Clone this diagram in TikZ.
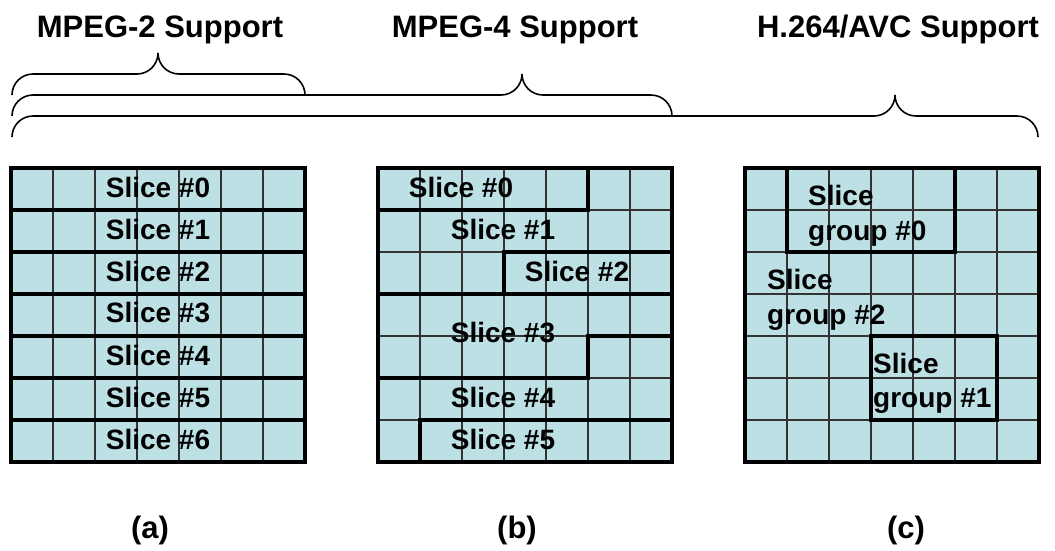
\documentclass[tikz,border=0pt]{standalone}
\usepackage{fontspec}
\setmainfont{Liberation Sans}
\definecolor{cellfill}{RGB}{188,224,228}
\tikzset{
  cellline/.style={line width=1.2pt, draw=black!80},
  thickline/.style={line width=3.8pt, line join=miter, line cap=rect},
  bracepath/.style={line width=1.6pt, rounded corners=21pt},
  titletext/.style={font=\bfseries\fontsize{31}{37}\selectfont, inner sep=0pt, anchor=base},
  slicetext/.style={font=\bfseries\fontsize{28}{34}\selectfont, inner sep=0pt},
}
\begin{document}
\begin{tikzpicture}[x=1pt, y=-1pt]
\useasboundingbox (0,0) rectangle (1055,550);

% titles
\node[titletext] (t2) at (160,37) {MPEG-2 Support};
\node[titletext] (t4) at (515,37) {MPEG-4 Support};
\node[titletext] (th) at (898,37) {H.264/AVC Support};

% braces
\draw[bracepath] (12,95) -- (12,74) -- (158,74) -- (158,53);
\draw[bracepath] (158,53) -- (158,74) -- (305,74) -- (305,95);
\draw[bracepath] (12,116) -- (12,95) -- (522,95) -- (522,74);
\draw[bracepath] (522,74) -- (522,95) -- (672,95) -- (672,116);
\draw[bracepath] (12,137) -- (12,116) -- (895,116) -- (895,95);
\draw[bracepath] (895,95) -- (895,116) -- (1038,116) -- (1038,137);

% grids
\foreach \x in {11,378,745} {
  \fill[cellfill] (\x,168) rectangle ({\x+294},462);
  \foreach \i in {1,...,6} {
    \draw[cellline] ({\x+42*\i},168) -- ({\x+42*\i},462);
    \draw[cellline] (\x,{168+42*\i}) -- ({\x+294},{168+42*\i});
  }
}

% (a) slices
\foreach \i in {1,...,6} {
  \draw[thickline] (11,{168+42*\i}) -- (305,{168+42*\i});
}
\draw[thickline] (11,168) rectangle (305,462);
\foreach \i in {0,...,6} {
  \node[slicetext] (a\i) at (158,{187+42*\i}) {Slice \#\i};
}

% (b) slices
\draw[thickline] (378,210) -- (588,210) -- (588,168);
\draw[thickline] (378,294) -- (504,294) -- (504,252) -- (672,252);
\draw[thickline] (504,294) -- (672,294);
\draw[thickline] (378,378) -- (588,378) -- (588,336) -- (672,336);
\draw[thickline] (420,462) -- (420,420) -- (672,420);
\draw[thickline] (378,168) rectangle (672,462);
\node[slicetext] (b0) at (461,187) {Slice \#0};
\node[slicetext] (b1) at (503,229) {Slice \#1};
\node[slicetext] (b2) at (577,271) {Slice \#2};
\node[slicetext] (b3) at (503,333) {Slice \#3};
\node[slicetext] (b4) at (503,397) {Slice \#4};
\node[slicetext] (b5) at (503,439) {Slice \#5};

% (c) slice groups
\draw[thickline] (787,168) -- (787,252) -- (955,252) -- (955,168);
\draw[thickline] (871,336) rectangle (997,420);
\draw[thickline] (745,168) rectangle (1039,462);
\node[slicetext, anchor=base west] (g0a) at (808,205) {Slice};
\node[slicetext, anchor=base west] (g0b) at (808,240) {group \#0};
\node[slicetext, anchor=base west] (g2a) at (767,289) {Slice};
\node[slicetext, anchor=base west] (g2b) at (767,324) {group \#2};
\node[slicetext, anchor=base west] (g1a) at (873,373) {Slice};
\node[slicetext, anchor=base west] (g1b) at (873,407) {group \#1};

% labels
\node[titletext] (la) at (150,538) {(a)};
\node[titletext] (lb) at (517,538) {(b)};
\node[titletext] (lc) at (906,538) {(c)};
\end{tikzpicture}
\end{document}
